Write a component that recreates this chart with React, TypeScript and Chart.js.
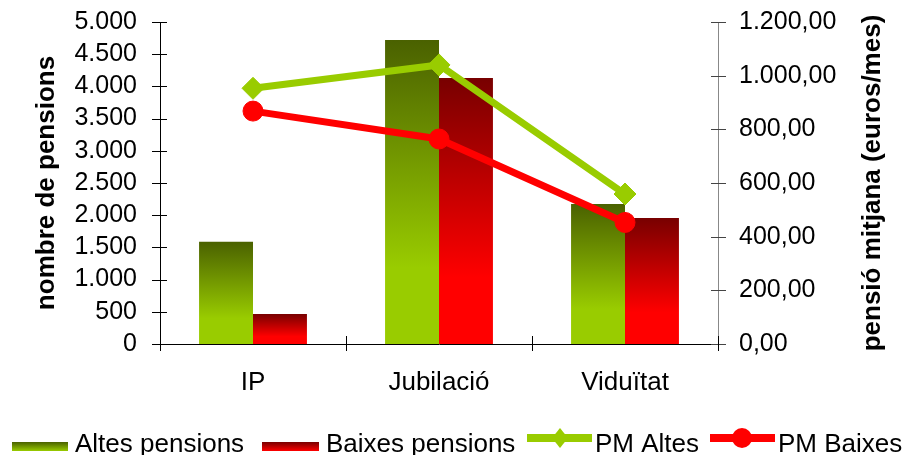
import React, { useEffect, useRef } from 'react';
import { Chart, registerables } from 'chart.js';

Chart.register(...registerables);

const categories = ['IP', 'Jubilació', 'Viduïtat'];
const altesPensions = [1589, 4720, 2174];
const baixesPensions = [466, 4130, 1957];
const pmAltes = [953, 1040, 559];
const pmBaixes = [868, 764, 453];
const seriesLabels = ['Altes pensions', 'Baixes pensions', 'PM Altes', 'PM Baixes'];
const leftAxisTitle = 'nombre de pensions';
const rightAxisTitle = 'pensió mitjana (euros/mes)';
const leftAxisRange = [0, 5000, 500];
const rightAxisRange = [0, 1200, 200];

const FONT = "'Liberation Sans', Arial, sans-serif";
const GREEN_DARK = '#4a6100';
const GREEN_LIGHT = '#99cc00';
const RED_DARK = '#780000';
const RED_LIGHT = '#ff0000';

function fmtNum(n: number, decimals: number): string {
  const fixed = n.toFixed(decimals);
  const [i, d] = fixed.split('.');
  const withDots = i.replace(/\B(?=(\d{3})+(?!\d))/g, '.');
  return d ? withDots + ',' + d : withDots;
}

function barGradient(dark: string, light: string) {
  return (ctx: any) => {
    const chart = ctx.chart;
    const ys = chart.scales && chart.scales.y;
    if (ctx.type !== 'data' || !ys) return light;
    const top = ys.getPixelForValue(ctx.raw);
    const base = ys.getPixelForValue(0);
    if (!isFinite(top) || !isFinite(base) || base - top < 1) return light;
    const g = chart.ctx.createLinearGradient(0, top, 0, base);
    g.addColorStop(0, dark);
    g.addColorStop(0.75, light);
    g.addColorStop(1, light);
    return g;
  };
}

const decorPlugin = {
  id: 'decor',
  afterDraw(chart: any) {
    const ctx = chart.ctx as CanvasRenderingContext2D;
    const { chartArea } = chart;
    const y = chart.scales.y;
    const y1 = chart.scales.y1;
    ctx.save();
    ctx.lineWidth = 1;
    ctx.strokeStyle = '#000';
    y.ticks.forEach((_t: any, i: number) => {
      const py = Math.round(y.getPixelForTick(i)) + 0.5;
      ctx.beginPath();
      ctx.moveTo(chartArea.left - 8, py);
      ctx.lineTo(chartArea.left + 7, py);
      ctx.stroke();
    });
    ctx.strokeStyle = '#444';
    y1.ticks.forEach((_t: any, i: number) => {
      const py = Math.round(y1.getPixelForTick(i)) + 0.5;
      ctx.beginPath();
      ctx.moveTo(chartArea.right - 7, py);
      ctx.lineTo(chartArea.right + 8, py);
      ctx.stroke();
    });
    ctx.strokeStyle = '#000';
    for (let i = 0; i <= categories.length; i++) {
      const px = Math.round(chartArea.left + (i * (chartArea.right - chartArea.left)) / categories.length) + 0.5;
      ctx.beginPath();
      ctx.moveTo(px, chartArea.bottom - 8);
      ctx.lineTo(px, chartArea.bottom + 7);
      ctx.stroke();
    }
    ctx.fillStyle = '#000';
    ctx.font = `bold 26px ${FONT}`;
    ctx.textAlign = 'center';
    ctx.textBaseline = 'middle';
    const midY = (chartArea.top + chartArea.bottom) / 2;
    ctx.save();
    ctx.translate(47, midY);
    ctx.rotate(-Math.PI / 2);
    ctx.fillText(leftAxisTitle, 0, 0);
    ctx.restore();
    ctx.save();
    ctx.translate(873, midY);
    ctx.rotate(-Math.PI / 2);
    ctx.fillText(rightAxisTitle, 0, 0);
    ctx.restore();

    const ds = chart.data.datasets;
    ctx.font = `26px ${FONT}`;
    ctx.textAlign = 'left';
    ctx.textBaseline = 'alphabetic';
    const textY = 452;
    const boxTop = 442;
    const boxH = 9;
    const drawBox = (x0: number, w: number, dark: string, light: string) => {
      const g = ctx.createLinearGradient(0, boxTop, 0, boxTop + boxH);
      g.addColorStop(0, dark);
      g.addColorStop(1, light);
      ctx.fillStyle = g;
      ctx.fillRect(x0, boxTop, w, boxH);
    };
    drawBox(12, 56, GREEN_DARK, GREEN_LIGHT);
    ctx.fillStyle = '#000';
    ctx.fillText(ds[0].label, 75, textY);
    drawBox(262, 57, RED_DARK, RED_LIGHT);
    ctx.fillStyle = '#000';
    ctx.fillText(ds[1].label, 326, textY);
    const lineY = 438;
    ctx.strokeStyle = GREEN_LIGHT;
    ctx.lineWidth = 8;
    ctx.beginPath();
    ctx.moveTo(527, lineY);
    ctx.lineTo(592, lineY);
    ctx.stroke();
    ctx.fillStyle = GREEN_LIGHT;
    ctx.beginPath();
    ctx.moveTo(560, lineY - 10);
    ctx.lineTo(568, lineY);
    ctx.lineTo(560, lineY + 10);
    ctx.lineTo(552, lineY);
    ctx.closePath();
    ctx.fill();
    ctx.fillStyle = '#000';
    ctx.fillText(ds[2].label, 595, textY);
    ctx.strokeStyle = RED_LIGHT;
    ctx.beginPath();
    ctx.moveTo(710, lineY);
    ctx.lineTo(775, lineY);
    ctx.stroke();
    ctx.fillStyle = RED_LIGHT;
    ctx.beginPath();
    ctx.arc(742, lineY, 10, 0, Math.PI * 2);
    ctx.fill();
    ctx.fillStyle = '#000';
    ctx.fillText(ds[3].label, 778, textY);
    ctx.restore();
  },
};

export default function App() {
  const ref = useRef<HTMLCanvasElement | null>(null);
  useEffect(() => {
    document.body.style.margin = '0';
    const canvas = ref.current;
    if (!canvas) return;
    const chart = new Chart(canvas, {
      type: 'bar',
      data: {
        labels: categories,
        datasets: [
          {
            type: 'bar',
            label: seriesLabels[0],
            data: altesPensions,
            yAxisID: 'y',
            backgroundColor: barGradient(GREEN_DARK, GREEN_LIGHT),
            borderWidth: 0,
            order: 2,
            categoryPercentage: 0.58,
            barPercentage: 1,
          } as any,
          {
            type: 'bar',
            label: seriesLabels[1],
            data: baixesPensions,
            yAxisID: 'y',
            backgroundColor: barGradient(RED_DARK, RED_LIGHT),
            borderWidth: 0,
            order: 2,
            categoryPercentage: 0.58,
            barPercentage: 1,
          } as any,
          {
            type: 'line',
            label: seriesLabels[2],
            data: pmAltes,
            yAxisID: 'y1',
            borderColor: GREEN_LIGHT,
            backgroundColor: GREEN_LIGHT,
            borderWidth: 7,
            pointStyle: 'rectRot',
            pointRadius: 11,
            pointBorderWidth: 1,
            tension: 0,
            order: 0,
          } as any,
          {
            type: 'line',
            label: seriesLabels[3],
            data: pmBaixes,
            yAxisID: 'y1',
            borderColor: RED_LIGHT,
            backgroundColor: RED_LIGHT,
            borderWidth: 7,
            pointStyle: 'circle',
            pointRadius: 10,
            pointBorderWidth: 1,
            tension: 0,
            order: 1,
          } as any,
        ],
      },
      options: {
        responsive: false,
        animation: false,
        layout: { padding: { top: 22, left: 0, right: 0, bottom: 0 } },
        plugins: {
          legend: { display: false },
          tooltip: { enabled: false },
          title: { display: false },
        },
        scales: {
          x: {
            grid: { display: false, drawTicks: false },
            border: { display: true, color: '#000', width: 1 },
            ticks: { color: '#000', font: { family: FONT, size: 26 }, padding: 23, maxRotation: 0 },
            afterFit: (s: any) => {
              s.height = 111;
              s.paddingLeft = 0;
              s.paddingRight = 0;
            },
          },
          y: {
            position: 'left',
            min: leftAxisRange[0],
            max: leftAxisRange[1],
            grid: { display: false, drawTicks: false },
            border: { display: true, color: '#000', width: 1 },
            ticks: {
              stepSize: leftAxisRange[2],
              autoSkip: false,
              color: '#000',
              font: { family: FONT, size: 25 },
              padding: 23,
              callback: (v: any) => fmtNum(Number(v), 0),
            },
            afterFit: (s: any) => {
              s.width = 160;
              s.paddingTop = 0;
              s.paddingBottom = 0;
            },
          },
          y1: {
            position: 'right',
            min: rightAxisRange[0],
            max: rightAxisRange[1],
            grid: { display: false, drawTicks: false },
            border: { display: true, color: '#888', width: 1 },
            ticks: {
              stepSize: rightAxisRange[2],
              autoSkip: false,
              color: '#000',
              font: { family: FONT, size: 25 },
              padding: 21,
              callback: (v: any) => fmtNum(Number(v), 2),
            },
            afterFit: (s: any) => {
              s.width = 186;
              s.paddingTop = 0;
              s.paddingBottom = 0;
            },
          },
        },
      } as any,
      plugins: [decorPlugin],
    });
    return () => chart.destroy();
  }, []);
  return (
    <div style={{ position: 'fixed', left: 0, top: 0, width: 904, height: 455, background: '#fff' }}>
      <canvas ref={ref} width={904} height={455} style={{ display: 'block' }} />
    </div>
  );
}
